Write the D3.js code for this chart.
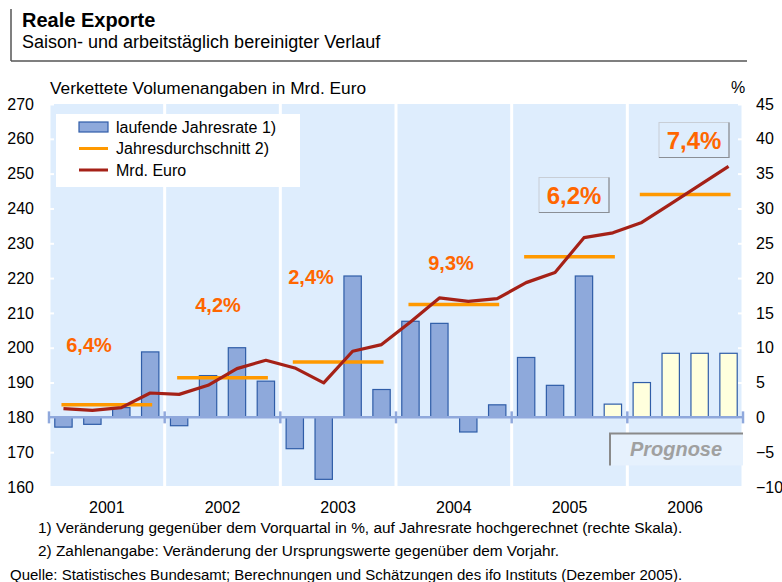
<!DOCTYPE html>
<html>
<head>
<meta charset="utf-8">
<script src="https://cdn.jsdelivr.net/npm/d3@7"></script>
<style>
  body { margin: 0; background: #fff; }
  text { font-family: Arial, "Liberation Sans", sans-serif; }
</style>
</head>
<body>
<div id="chart"></div>
<script>
// Years and quarters
const years = ["2001", "2002", "2003", "2004", "2005", "2006"]
const quarters = years.flatMap(y => ["Q1", "Q2", "Q3", "Q4"].map(q => y + q))

// laufende Jahresrate in % (right axis)
const rates = [-1.4, -1.0, 1.4, 9.4, -1.2, 6.0, 10.0, 5.2, -4.5, -8.9, 20.3, 4.0,
               13.8, 13.5, -2.1, 1.8, 8.6, 4.6, 20.3, 1.9, 5.0, 9.2, 9.2, 9.2]
// forecast quarters (Prognose) from 2005 Q4
const forecastStart = 19

// Mrd. Euro (left axis)
const volumes = [182.5, 182.0, 182.8, 187.0, 186.6, 189.2, 194.0, 196.4, 194.2, 189.9, 199.0, 200.9,
                 207.4, 214.3, 213.3, 214.1, 218.7, 221.6, 231.6, 233.0, 236.0, 241.3, 246.7, 252.1]

// Jahresdurchschnitt (left axis) and its label
const yearAvg = [183.6, 191.4, 195.9, 212.4, 226.1, 244.0]
const yearGrowth = ["6,4%", "4,2%", "2,4%", "9,3%", "6,2%", "7,4%"]

const leftTicks = [160, 170, 180, 190, 200, 210, 220, 230, 240, 250, 260, 270]
const rightTicks = [-10, -5, 0, 5, 10, 15, 20, 25, 30, 35, 40, 45]

const W = 782, H = 582
const plot = { left: 49, right: 743, top: 104, bottom: 487 }

const svg = d3.select("#chart").append("svg")
    .attr("width", W)
    .attr("height", H)

const blue = "#8EA9DB", blueStroke = "#2F5DA8", panel = "#DEEDFD"
const orange = "#FF9900", red = "#A52117", pctColor = "#FF6600"

// Scales
const xYear = d3.scaleBand().domain(years).range([plot.left, plot.right])
const xQ = d3.scaleBand().domain(quarters).range([plot.left, plot.right])
    .paddingInner(0.4).paddingOuter(0.2)
const qc = q => xQ(q) + xQ.bandwidth() / 2
const yL = d3.scaleLinear().domain([160, 270]).range([plot.bottom, plot.top])
const yR = d3.scaleLinear().domain([-10, 45]).range([plot.bottom, plot.top])

// Title block
svg.append("line").attr("x1", 11).attr("x2", 11).attr("y1", 9).attr("y2", 61)
    .attr("stroke", "#555").attr("stroke-width", 1.5)
svg.append("line").attr("x1", 11).attr("x2", 747).attr("y1", 61).attr("y2", 61)
    .attr("stroke", "#555").attr("stroke-width", 1.5)
svg.append("text").attr("x", 22).attr("y", 27)
    .attr("font-size", 20).attr("font-weight", "bold").text("Reale Exporte")
svg.append("text").attr("x", 22).attr("y", 48)
    .attr("font-size", 18).text("Saison- und arbeitstäglich bereinigter Verlauf")
svg.append("text").attr("x", 50).attr("y", 94)
    .attr("font-size", 17.3).text("Verkettete Volumenangaben in Mrd. Euro")
svg.append("text").attr("x", 738).attr("y", 93).attr("text-anchor", "middle")
    .attr("font-size", 16).text("%")

// Year panels
svg.append("g").selectAll("rect")
    .data(years)
    .enter()
    .append("rect")
    .attr("x", d => xYear(d) + 1.5)
    .attr("y", plot.top)
    .attr("width", xYear.bandwidth() - 3)
    .attr("height", plot.bottom - plot.top - 1)
    .attr("fill", panel)

// Axes (white ticks, no domain)
const leftAxis = svg.append("g")
    .attr("transform", `translate(${plot.left + 5},0)`)
    .call(d3.axisLeft(yL).tickValues(leftTicks).tickSize(5).tickPadding(15))
const rightAxis = svg.append("g")
    .attr("transform", `translate(${plot.right - 5},0)`)
    .call(d3.axisRight(yR).tickValues(rightTicks).tickSize(5).tickPadding(13))
for (const ax of [leftAxis, rightAxis]) {
    ax.select(".domain").remove()
    ax.selectAll(".tick line").attr("stroke", "#fff").attr("stroke-width", 2)
    ax.selectAll(".tick text").attr("font-size", 16).attr("fill", "#000")
        .style("font-family", "Arial, 'Liberation Sans', sans-serif")
}

// Prognose box
svg.append("rect").attr("x", 610).attr("y", yR(-2.3)).attr("width", plot.right - 610)
    .attr("height", yR(-6.9) - yR(-2.3)).attr("fill", "#E6F1FD")
svg.append("path")
    .attr("d", `M610,${yR(-6.9)}V${yR(-2.3)}H${plot.right}`)
    .attr("fill", "none").attr("stroke", "#8A8A8A").attr("stroke-width", 2)
svg.append("text").attr("x", 676).attr("y", yR(-4.6) + 7)
    .attr("text-anchor", "middle").attr("font-size", 20)
    .attr("font-weight", "bold").attr("font-style", "italic")
    .attr("fill", "#A0A0A0").text("Prognose")

// Bars
svg.append("g").selectAll("rect")
    .data(rates)
    .enter()
    .append("rect")
    .attr("x", (d, i) => xQ(quarters[i]))
    .attr("width", xQ.bandwidth())
    .attr("y", d => yR(Math.max(0, d)))
    .attr("height", d => Math.abs(yR(d) - yR(0)))
    .attr("fill", (d, i) => i >= forecastStart ? "#FFFFDD" : blue)
    .attr("stroke", blueStroke)
    .attr("stroke-width", 1.2)

// Zero line with year ticks
svg.append("line").attr("x1", plot.left - 1).attr("x2", plot.right + 1)
    .attr("y1", yR(0)).attr("y2", yR(0))
    .attr("stroke", "#8FA8DC").attr("stroke-width", 2.5)
svg.append("g").selectAll("line")
    .data(years.concat(["end"]))
    .enter()
    .append("line")
    .attr("x1", (d, i) => i < years.length ? xYear(d) : plot.right)
    .attr("x2", (d, i) => i < years.length ? xYear(d) : plot.right)
    .attr("y1", yR(0) - 6).attr("y2", yR(0) + 6)
    .attr("stroke", "#8FA8DC").attr("stroke-width", 2.5)

// Yearly average lines
svg.append("g").selectAll("line")
    .data(yearAvg)
    .enter()
    .append("line")
    .attr("x1", (d, i) => qc(quarters[i * 4]) - 2)
    .attr("x2", (d, i) => qc(quarters[i * 4 + 3]) + 2)
    .attr("y1", d => yL(d)).attr("y2", d => yL(d))
    .attr("stroke", orange).attr("stroke-width", 3.5)

// Mrd. Euro line
const line = d3.line()
    .x((d, i) => qc(quarters[i]))
    .y(d => yL(d))
svg.append("path")
    .datum(volumes)
    .attr("d", line)
    .attr("fill", "none")
    .attr("stroke", red)
    .attr("stroke-width", 3.2)
    .attr("stroke-linejoin", "round")

// Growth labels
const labelPos = [
    { x: 89, y: 345, size: 20, box: false },
    { x: 218, y: 305, size: 20, box: false },
    { x: 311, y: 277, size: 20, box: false },
    { x: 451, y: 263, size: 20, box: false },
    { x: 574, y: 195, size: 24, box: true },
    { x: 694, y: 140, size: 24, box: true }
]
labelPos.forEach((p, i) => {
    if (p.box) {
        const bw = 70, bh = 35
        svg.append("rect").attr("x", p.x - bw / 2).attr("y", p.y - bh / 2)
            .attr("width", bw).attr("height", bh)
            .attr("fill", panel).attr("stroke", "#C8CED6").attr("stroke-width", 1)
        svg.append("path")
            .attr("d", `M${p.x + bw / 2},${p.y - bh / 2}V${p.y + bh / 2}H${p.x - bw / 2}`)
            .attr("fill", "none").attr("stroke", "#8A8F96").attr("stroke-width", 1.2)
    }
    svg.append("text")
        .attr("x", p.x)
        .attr("y", p.y + p.size * 0.36)
        .attr("text-anchor", "middle")
        .attr("font-size", p.size)
        .attr("font-weight", "bold")
        .attr("fill", pctColor)
        .text(yearGrowth[i])
})

// Legend
const legend = svg.append("g")
legend.append("rect").attr("x", 56).attr("y", 114).attr("width", 244).attr("height", 73)
    .attr("fill", "#fff")
const legendItems = ["laufende Jahresrate 1)", "Jahresdurchschnitt 2)", "Mrd. Euro"]
legendItems.forEach((name, i) => {
    const cy = 127 + i * 21.5
    if (i === 0) {
        legend.append("rect").attr("x", 79).attr("y", cy - 5).attr("width", 29).attr("height", 10)
            .attr("fill", blue).attr("stroke", blueStroke).attr("stroke-width", 1.2)
    } else {
        legend.append("line").attr("x1", 79).attr("x2", 108).attr("y1", cy).attr("y2", cy)
            .attr("stroke", i === 1 ? orange : red).attr("stroke-width", 3)
    }
    legend.append("text").attr("x", 116).attr("y", cy + 5.8)
        .attr("font-size", 16).text(name)
})

// Year labels
svg.append("g").selectAll("text")
    .data(years)
    .enter()
    .append("text")
    .attr("x", d => xYear(d) + xYear.bandwidth() / 2)
    .attr("y", 513)
    .attr("text-anchor", "middle")
    .attr("font-size", 16)
    .text(d => d)

// Footnotes
svg.append("text").attr("x", 38).attr("y", 533).attr("font-size", 15.4)
    .text("1) Veränderung gegenüber dem Vorquartal in %, auf Jahresrate hochgerechnet (rechte Skala).")
svg.append("text").attr("x", 38).attr("y", 556).attr("font-size", 15.4)
    .text("2) Zahlenangabe: Veränderung der Ursprungswerte gegenüber dem Vorjahr.")
svg.append("text").attr("x", 10).attr("y", 580).attr("font-size", 15)
    .text("Quelle: Statistisches Bundesamt; Berechnungen und Schätzungen des ifo Instituts (Dezember 2005).")
</script>
</body>
</html>
